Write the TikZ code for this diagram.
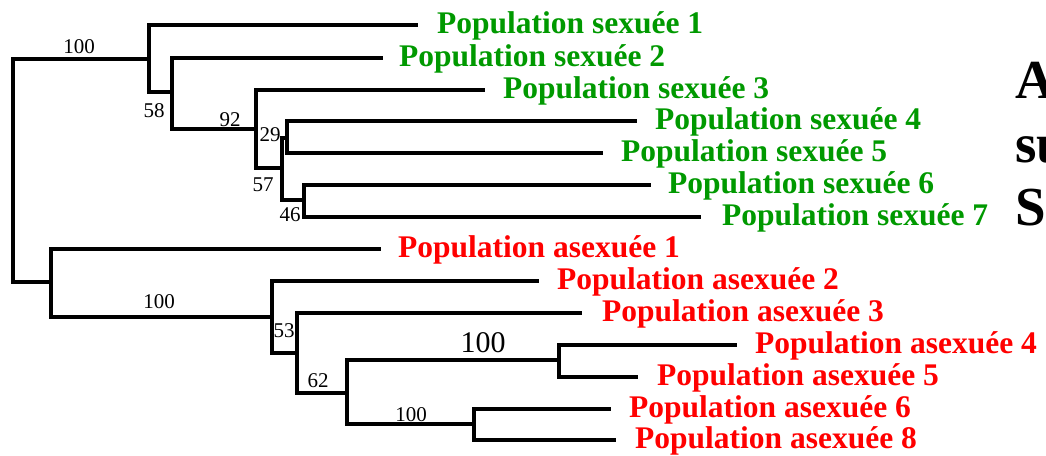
\documentclass[tikz,border=0pt]{standalone}
\usepackage{fontspec}
\setmainfont{Liberation Serif}
\definecolor{sexgreen}{RGB}{0,153,0}
\definecolor{asexred}{RGB}{255,0,0}
\tikzset{
  branch/.style={line width=3.3pt, line join=miter, line cap=butt},
  leaflabel/.style={anchor=base west, inner sep=0pt, font=\bfseries\fontsize{31.5}{36}\selectfont},
  sx/.style={leaflabel, text=sexgreen},
  asx/.style={leaflabel, text=asexred},
  boot/.style={inner sep=0pt, font=\fontsize{21}{24}\selectfont},
  bigboot/.style={inner sep=0pt, font=\fontsize{30}{34}\selectfont},
  sidetext/.style={anchor=base west, inner sep=0pt, font=\bfseries\fontsize{55}{60}\selectfont}
}
\begin{document}
\begin{tikzpicture}[x=1pt, y=-1pt]
\useasboundingbox (0,0) rectangle (1046,455);

% internal nodes of the tree
\coordinate (R) at (13,170);
\coordinate (A) at (149,59);
\coordinate (B) at (172,92);
\coordinate (C) at (256,129);
\coordinate (D) at (282,168);
\coordinate (E) at (287,138);
\coordinate (F) at (304,200);
\coordinate (G) at (51,282);
\coordinate (H) at (272,317);
\coordinate (I) at (297,353);
\coordinate (J) at (347,393);
\coordinate (K) at (559,360);
\coordinate (L) at (474,424);

% leaf tips
\coordinate (s1) at (418,25);
\coordinate (s2) at (383,58);
\coordinate (s3) at (485,90);
\coordinate (s4) at (637,121);
\coordinate (s5) at (603,153);
\coordinate (s6) at (651,185);
\coordinate (s7) at (701,217);
\coordinate (a1) at (381,249);
\coordinate (a2) at (539,281);
\coordinate (a3) at (582,313);
\coordinate (a4) at (737,345);
\coordinate (a5) at (638,377);
\coordinate (a6) at (611,409);
\coordinate (a8) at (616,440);

% branches
\draw[branch] (R) |- (A);
\draw[branch] (R) |- (G);
\draw[branch] (A) |- (s1);
\draw[branch] (A) |- (B);
\draw[branch] (B) |- (s2);
\draw[branch] (B) |- (C);
\draw[branch] (C) |- (s3);
\draw[branch] (C) |- (D);
\draw[branch] (D) |- (E);
\draw[branch] (D) |- (F);
\draw[branch] (E) |- (s4);
\draw[branch] (E) |- (s5);
\draw[branch] (F) |- (s6);
\draw[branch] (F) |- (s7);
\draw[branch] (G) |- (a1);
\draw[branch] (G) |- (H);
\draw[branch] (H) |- (a2);
\draw[branch] (H) |- (I);
\draw[branch] (I) |- (a3);
\draw[branch] (I) |- (J);
\draw[branch] (J) |- (K);
\draw[branch] (J) |- (L);
\draw[branch] (K) |- (a4);
\draw[branch] (K) |- (a5);
\draw[branch] (L) |- (a6);
\draw[branch] (L) |- (a8);

% leaf labels
\node[sx] (ls1) at (437,33) {Population sexuée 1};
\node[sx] (ls2) at (399,66) {Population sexuée 2};
\node[sx] (ls3) at (503,98) {Population sexuée 3};
\node[sx] (ls4) at (655,129) {Population sexuée 4};
\node[sx] (ls5) at (621,161) {Population sexuée 5};
\node[sx] (ls6) at (668,193) {Population sexuée 6};
\node[sx] (ls7) at (722,225) {Population sexuée 7};
\node[asx] (la1) at (398,257) {Population asexuée 1};
\node[asx] (la2) at (557,289) {Population asexuée 2};
\node[asx] (la3) at (602,321) {Population asexuée 3};
\node[asx] (la4) at (755,353) {Population asexuée 4};
\node[asx] (la5) at (657,385) {Population asexuée 5};
\node[asx] (la6) at (629,417) {Population asexuée 6};
\node[asx] (la8) at (635,448) {Population asexuée 8};

% bootstrap values
\node[boot] (b1) at (79,47) {100};
\node[boot] (b2) at (154,111) {58};
\node[boot] (b3) at (230,120) {92};
\node[boot] (b4) at (270,135) {29};
\node[boot] (b5) at (263,185) {57};
\node[boot] (b6) at (290,215) {46};
\node[boot] (b7) at (159,302) {100};
\node[boot] (b8) at (284,331) {53};
\node[boot] (b9) at (318,381) {62};
\node[bigboot] (b10) at (483,343) {100};
\node[boot] (b11) at (411,415) {100};

% text at the right edge
\node[sidetext] (t1) at (1015,98) {A};
\node[sidetext] (t2) at (1015,162) {su};
\node[sidetext] (t3) at (1015,225) {S};
\end{tikzpicture}
\end{document}
